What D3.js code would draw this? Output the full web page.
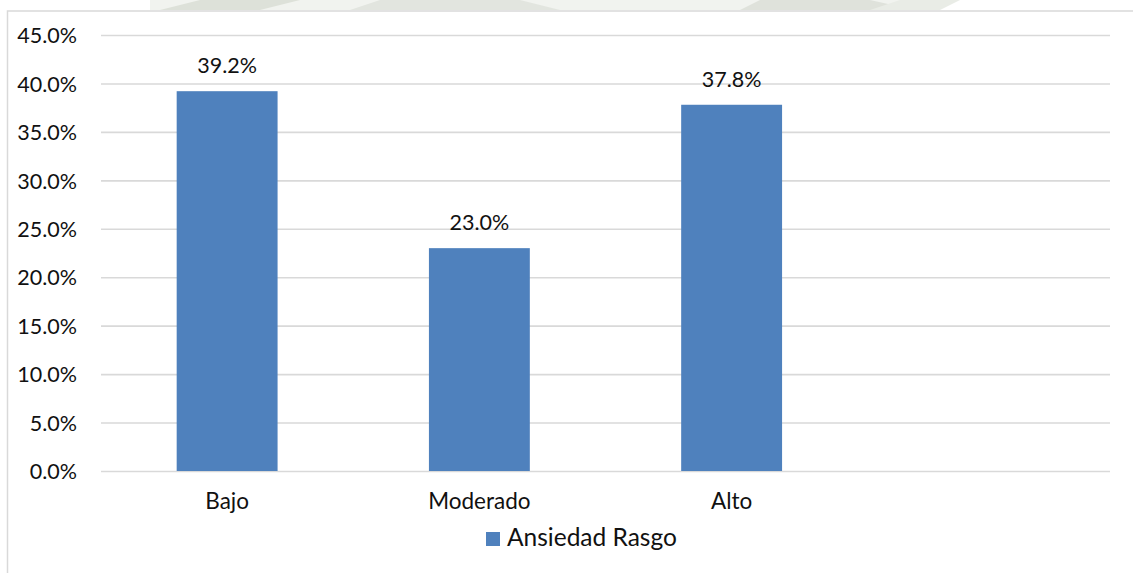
<!DOCTYPE html>
<html>
<head>
<meta charset="utf-8">
<script src="https://cdn.jsdelivr.net/npm/d3@7"></script>
<style>
  html, body { margin: 0; padding: 0; background: #ffffff; }
  svg { display: block; }
  text { font-family: Lato, "Open Sans", sans-serif; fill: #111111; }
</style>
</head>
<body>
<svg id="chart" width="1133" height="573"></svg>
<script>
// Categories, values and tick labels
const categories = ["Bajo", "Moderado", "Alto", ""];
const values = [0.392, 0.230, 0.378, null];
const seriesName = "Ansiedad Rasgo";
const yTicks = [0, 0.05, 0.10, 0.15, 0.20, 0.25, 0.30, 0.35, 0.40, 0.45];

const W = 1133, H = 573;
const plot = { left: 101, right: 1110, top: 35, bottom: 471 };
const barColor = "#4f81bd";
const gridColor = "#d9d9d9";

const svg = d3.select("#chart");
const pct = d3.format(".1%");

// Faint seal in the margin above the chart frame
svg.append("clipPath").attr("id", "topclip")
  .append("rect").attr("x", 0).attr("y", 0).attr("width", W).attr("height", 10);
const seal = svg.append("g").attr("clip-path", "url(#topclip)");
seal.append("rect").attr("x", 150).attr("y", 0).attr("width", 760).attr("height", 10)
  .attr("fill", "#f1f3ef");
seal.append("path").attr("d", "M160,10 L200,0 L300,0 L260,10 Z").attr("fill", "#dde1d9");
seal.append("path").attr("d", "M350,10 L380,0 L520,0 L560,10 Z").attr("fill", "#e2e5df");
seal.append("path").attr("d", "M740,10 L760,0 L870,0 L915,10 Z").attr("fill", "#dfe2db");
seal.append("path").attr("d", "M870,10 L900,0 L960,0 L940,10 Z").attr("fill", "#e9ece6");

// Chart frame
svg.append("path")
  .attr("d", `M7.5,${H + 2} L7.5,11 L${W + 2},11`)
  .attr("fill", "none").attr("stroke", gridColor).attr("stroke-width", 1.5);

const x = d3.scaleBand()
  .domain(categories)
  .range([plot.left, plot.right])
  .paddingInner(0.6)
  .paddingOuter(0.3);

const y = d3.scaleLinear()
  .domain([0, 0.45])
  .range([plot.bottom, plot.top]);

// Gridlines and value axis labels
const yAxis = svg.append("g")
  .attr("transform", `translate(${plot.left},0)`)
  .call(d3.axisLeft(y).tickValues(yTicks).tickFormat(pct)
    .tickSize(-(plot.right - plot.left)).tickPadding(24));
yAxis.select(".domain").remove();
yAxis.selectAll(".tick line").attr("stroke", gridColor).attr("stroke-width", 1.6);
yAxis.selectAll(".tick text")
  .attr("font-size", 21.5).attr("font-family", "Lato, 'Open Sans', sans-serif")
  .attr("fill", "#111111").attr("dy", "0.36em");

// Bars
const data = categories.map((c, i) => ({ c, v: values[i] })).filter(d => d.v != null);
svg.append("g").selectAll("rect")
  .data(data).join("rect")
  .attr("x", d => x(d.c))
  .attr("y", d => y(d.v))
  .attr("width", x.bandwidth())
  .attr("height", d => y(0) - y(d.v))
  .attr("fill", barColor);

// Value labels
svg.append("g").selectAll("text")
  .data(data).join("text")
  .attr("x", d => x(d.c) + x.bandwidth() / 2)
  .attr("y", d => y(d.v) - 18)
  .attr("text-anchor", "middle")
  .attr("font-size", 21.5)
  .text(d => pct(d.v));

// Category axis labels
const xAxis = svg.append("g")
  .attr("transform", `translate(0,${plot.bottom})`)
  .call(d3.axisBottom(x).tickSize(0));
xAxis.select(".domain").remove();
xAxis.selectAll(".tick text")
  .attr("y", 38).attr("dy", 0)
  .attr("font-size", 22.5).attr("font-family", "Lato, 'Open Sans', sans-serif")
  .attr("fill", "#111111");

// Legend
const legend = svg.append("g").attr("transform", "translate(486,532)");
legend.append("rect").attr("width", 14).attr("height", 14).attr("fill", barColor);
legend.append("text").attr("x", 21).attr("y", 14)
  .attr("font-size", 24.5).text(seriesName);
</script>
</body>
</html>
